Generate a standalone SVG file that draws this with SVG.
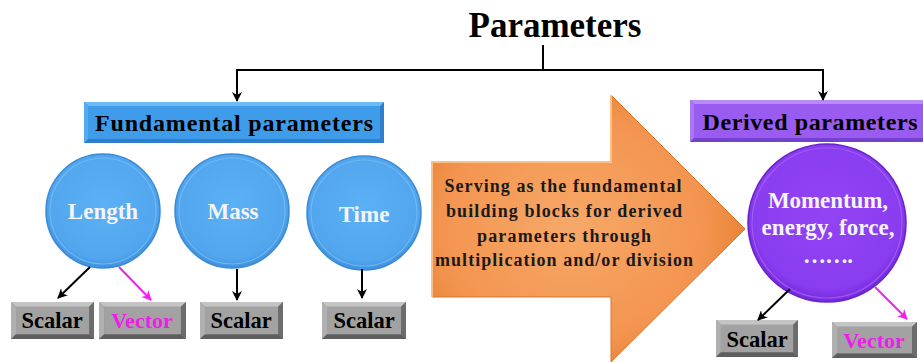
<svg xmlns="http://www.w3.org/2000/svg" xmlns:xlink="http://www.w3.org/1999/xlink" width="923" height="362" viewBox="0 0 923 362">
  <style>
    text { font-family: "Liberation Serif", "DejaVu Serif", "Times New Roman", serif; font-weight: 700; }
    .title { font-size: 35px; fill: #000; }
    .head { font-size: 24px; fill: #000; }
    .lab { font-size: 23px; fill: #f4f4f4; }
    .box { font-size: 22.5px; fill: #000; }
    .vec { font-size: 22px; fill: #ee1ee8; }
    .arr { font-size: 18px; fill: #1a1a1a; }
    .blk { stroke: #000; stroke-width: 2; fill: none; }
    .mag { stroke: #ee22ee; stroke-width: 2; fill: none; }
  </style>
  <defs>
    <marker id="ah" viewBox="0 0 10 10" refX="9" refY="5" markerWidth="10" markerHeight="10" orient="auto" markerUnits="userSpaceOnUse">
      <path d="M0,0 L10,5 L0,10 L3,5 z" fill="#000"/>
    </marker>
    <marker id="ahm" viewBox="0 0 10 10" refX="9" refY="5" markerWidth="10" markerHeight="10" orient="auto" markerUnits="userSpaceOnUse">
      <path d="M0,0 L10,5 L0,10 L3,5 z" fill="#ee22ee"/>
    </marker>
    <radialGradient id="gBlue" cx="0.5" cy="0.45" r="0.55">
      <stop offset="0" stop-color="#5cb0f4"/>
      <stop offset="0.85" stop-color="#52a6ee"/>
      <stop offset="1" stop-color="#3f90dc"/>
    </radialGradient>
    <radialGradient id="gPurple" cx="0.5" cy="0.45" r="0.55">
      <stop offset="0" stop-color="#9244f4"/>
      <stop offset="0.85" stop-color="#8a3cf0"/>
      <stop offset="1" stop-color="#7428d8"/>
    </radialGradient>
    <radialGradient id="gOrange" cx="0.45" cy="0.5" r="0.6">
      <stop offset="0" stop-color="#f7a868"/>
      <stop offset="0.7" stop-color="#f39550"/>
      <stop offset="1" stop-color="#e67e30"/>
    </radialGradient>
    <!-- bevelled gray tag, 84 x 38 -->
    <symbol id="tag" viewBox="0 0 84 38" preserveAspectRatio="none">
      <rect x="0" y="0" width="84" height="38" fill="#8e8e8e"/>
      <polygon points="0,0 84,0 79,5 5,5" fill="#c4c4c4"/>
      <polygon points="0,0 5,5 5,33 0,38" fill="#b0b0b0"/>
      <polygon points="84,0 84,38 79,33 79,5" fill="#6c6c6c"/>
      <polygon points="0,38 5,33 79,33 84,38" fill="#5e5e5e"/>
      <rect x="5" y="5" width="74" height="28" fill="#a2a2a2"/>
    </symbol>
  </defs>

  <rect width="923" height="362" fill="#ffffff"/>

  <!-- title -->
  <g id="title">
    <text class="title" x="555" y="37" text-anchor="middle">Parameters</text>
  </g>

  <!-- header bars -->
  <g id="fundamental">
    <rect x="84" y="102" width="300" height="41" fill="#2f7fcc"/>
    <polygon points="84,102 384,102 380,106 88,106" fill="#6cbaf6"/>
    <polygon points="84,102 88,106 88,139 84,143" fill="#58aaf0"/>
    <rect x="88" y="106" width="292" height="33" fill="#3e9cea"/>
    <text class="head" x="234" y="131" text-anchor="middle" textLength="278" lengthAdjust="spacing">Fundamental parameters</text>
  </g>
  <g id="derived">
    <rect x="690" y="100" width="233" height="42" fill="#7440d0"/>
    <polygon points="690,100 923,100 923,104 694,104" fill="#b88af8"/>
    <polygon points="690,100 694,104 694,138 690,142" fill="#a878f4"/>
    <rect x="694" y="104" width="229" height="34" fill="#9a5cf0"/>
    <text class="head" x="810" y="130" text-anchor="middle" textLength="215" lengthAdjust="spacing">Derived parameters</text>
  </g>

  <!-- fundamental quantities -->
  <g id="length">
    <circle cx="103" cy="211" r="57" fill="url(#gBlue)" stroke="#3a8ad6" stroke-width="1.5"/>
    <circle cx="103" cy="211" r="53" fill="none" stroke="#74bdf6" stroke-width="1.2" opacity="0.8"/>
    <text class="lab" x="103" y="219" text-anchor="middle">Length</text>
  </g>
  <g id="mass">
    <circle cx="232" cy="211" r="57" fill="url(#gBlue)" stroke="#3a8ad6" stroke-width="1.5"/>
    <circle cx="232" cy="211" r="53" fill="none" stroke="#74bdf6" stroke-width="1.2" opacity="0.8"/>
    <text class="lab" x="233" y="219" text-anchor="middle">Mass</text>
  </g>
  <g id="time">
    <circle cx="364" cy="213" r="57" fill="url(#gBlue)" stroke="#3a8ad6" stroke-width="1.5"/>
    <circle cx="364" cy="213" r="53" fill="none" stroke="#74bdf6" stroke-width="1.2" opacity="0.8"/>
    <text class="lab" x="364" y="222" text-anchor="middle">Time</text>
  </g>

  <!-- central arrow -->
  <g id="building-blocks">
    <polygon points="432,162 611,162 611,95 745,229 611,362 611,297 432,297" fill="url(#gOrange)" stroke="#d9762c" stroke-width="1"/>
    <polyline points="432,297 432,162 611,162 611,95" fill="none" stroke="#fbbf88" stroke-width="2"/>
    <text class="arr" x="563" y="192" text-anchor="middle" textLength="237" lengthAdjust="spacing">Serving as the fundamental</text>
    <text class="arr" x="564" y="217" text-anchor="middle" textLength="236" lengthAdjust="spacing">building blocks for derived</text>
    <text class="arr" x="564" y="242" text-anchor="middle" textLength="174" lengthAdjust="spacing">parameters through</text>
    <text class="arr" x="564" y="266" text-anchor="middle" textLength="258" lengthAdjust="spacing">multiplication and/or division</text>
  </g>

  <!-- derived quantities -->
  <g id="momentum">
    <circle cx="827" cy="223" r="79" fill="url(#gPurple)" stroke="#6a22cc" stroke-width="1.5"/>
    <circle cx="827" cy="223" r="75" fill="none" stroke="#a66cf6" stroke-width="1.2" opacity="0.7"/>
    <text class="lab" x="828" y="208" text-anchor="middle" font-size="22" textLength="120" lengthAdjust="spacing">Momentum,</text>
    <text class="lab" x="828" y="235" text-anchor="middle" font-size="22" textLength="133" lengthAdjust="spacing">energy, force,</text>
    <text class="lab" x="828" y="263" text-anchor="middle" font-size="22" textLength="50" lengthAdjust="spacing">…….</text>
  </g>

  <!-- type tags -->
  <g id="length-scalar">
    <use xlink:href="#tag" x="11" y="302" width="83" height="37"/>
    <text class="box" x="52" y="328" text-anchor="middle">Scalar</text>
  </g>
  <g id="length-vector">
    <use xlink:href="#tag" x="99" y="302" width="87" height="37"/>
    <text class="vec" x="142" y="328" text-anchor="middle">Vector</text>
  </g>
  <g id="mass-scalar">
    <use xlink:href="#tag" x="200" y="302" width="83" height="37"/>
    <text class="box" x="241" y="328" text-anchor="middle">Scalar</text>
  </g>
  <g id="time-scalar">
    <use xlink:href="#tag" x="322" y="302" width="84" height="37"/>
    <text class="box" x="364" y="328" text-anchor="middle">Scalar</text>
  </g>
  <g id="derived-scalar">
    <use xlink:href="#tag" x="716" y="320" width="82" height="37"/>
    <text class="box" x="757" y="347" text-anchor="middle">Scalar</text>
  </g>
  <g id="derived-vector">
    <use xlink:href="#tag" x="832" y="322" width="85" height="36"/>
    <text class="vec" x="874" y="348" text-anchor="middle">Vector</text>
  </g>

  <!-- connectors -->
  <g id="connectors">
    <line class="blk" x1="543" y1="45" x2="543" y2="70"/>
    <line class="blk" x1="236" y1="70" x2="824" y2="70"/>
    <line class="blk" x1="237" y1="69" x2="237" y2="101" marker-end="url(#ah)"/>
    <line class="blk" x1="823" y1="69" x2="823" y2="100" marker-end="url(#ah)"/>
    <line class="blk" x1="90" y1="267" x2="58" y2="298" marker-end="url(#ah)"/>
    <line class="mag" x1="119" y1="267" x2="151" y2="300" marker-end="url(#ahm)"/>
    <line class="blk" x1="237" y1="269" x2="237" y2="300" marker-end="url(#ah)"/>
    <line class="blk" x1="362" y1="269" x2="362" y2="298" marker-end="url(#ah)"/>
    <line class="blk" x1="790" y1="289" x2="758" y2="320" marker-end="url(#ah)"/>
    <line class="mag" x1="875" y1="287" x2="907" y2="319" marker-end="url(#ahm)"/>
  </g>
</svg>
